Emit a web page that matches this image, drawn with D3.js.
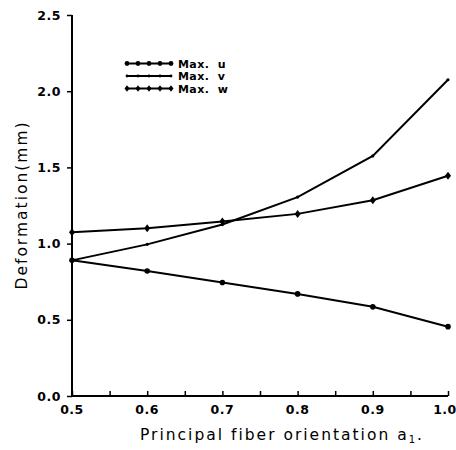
<!DOCTYPE html>
<html><head><meta charset="utf-8">
<script src="https://cdn.jsdelivr.net/npm/d3@7"></script>
<style>body{margin:0;background:#fff}</style>
</head><body><svg id="c" width="456" height="450"></svg>
<script>
const xs = [0.5, 0.6, 0.7, 0.8, 0.9, 1.0];
const maxU = [0.89, 0.82, 0.745, 0.67, 0.585, 0.455];
const maxV = [0.89, 0.995, 1.125, 1.305, 1.575, 2.075];
const maxW = [1.075, 1.10, 1.145, 1.195, 1.285, 1.445];
const xTickLabels = ["0.5","0.6","0.7","0.8","0.9","1.0"];
const yTickLabels = ["0.0","0.5","1.0","1.5","2.0","2.5"];
const seriesNames = ["Max.  u","Max.  v","Max.  w"];

const svg = d3.select("#c");
const x = d3.scaleLinear().domain([0.5,1.0]).range([72,448]);
const y = d3.scaleLinear().domain([0,2.5]).range([396,15]);
const font = "'DejaVu Sans', sans-serif";

// axes
const xAxis = d3.axisBottom(x).tickValues(d3.range(0.5,1.0001,0.05)).tickSize(-5).tickFormat("");
const gx = svg.append("g").attr("transform","translate(0,396)").call(xAxis);
gx.select(".domain").attr("d","M72,0H448").attr("stroke","#000").attr("stroke-width",2);
gx.selectAll(".tick line").attr("stroke","#000").attr("stroke-width",1.5);
svg.append("g").selectAll("text").data(xs).join("text")
  .attr("x",(d,i)=>i===xs.length-1 ? x(d)-3 : x(d)).attr("y",414).attr("text-anchor","middle")
  .attr("font-family",font).attr("font-weight","bold").attr("font-size",12.5).attr("letter-spacing",0.5)
  .text((d,i)=>xTickLabels[i]);

const yAxis = d3.axisLeft(y).tickValues([0,0.5,1,1.5,2,2.5]).tickSize(5).tickFormat("");
const gy = svg.append("g").attr("transform","translate(72,0)").call(yAxis);
gy.select(".domain").attr("d","M0,15V396").attr("stroke","#000").attr("stroke-width",2);
gy.selectAll(".tick line").attr("stroke","#000").attr("stroke-width",1.5);
svg.append("g").selectAll("text").data([0,0.5,1,1.5,2,2.5]).join("text")
  .attr("x",61).attr("y",d=>y(d)+4.5).attr("text-anchor","end")
  .attr("font-family",font).attr("font-weight","bold").attr("font-size",12.5).attr("letter-spacing",0.5)
  .text((d,i)=>yTickLabels[i]);

// titles
svg.append("text").attr("transform","translate(27,205) rotate(-90)").attr("text-anchor","middle")
  .attr("font-family",font).attr("font-size",15.5).attr("letter-spacing",2).text("Deformation(mm)");
svg.append("text").attr("x",282).attr("y",440).attr("text-anchor","middle")
  .attr("font-family",font).attr("font-size",15.5).attr("letter-spacing",2)
  .html("Principal fiber orientation a<tspan font-size='10' dy='3'>1</tspan><tspan dy='-3'>.</tspan>");

// lines
const line = d3.line().x((d,i)=>x(xs[i])).y(d=>y(d));
const series = [maxU, maxV, maxW];
const diamond = "M0,-4L3,0L0,4L-3,0Z";
const markers = [
  g => g.append("circle").attr("r",2.8),
  g => g.append("circle").attr("r",1.6),
  g => g.append("path").attr("d",diamond)
];
series.forEach((s,k)=>{
  svg.append("path").attr("d",line(s)).attr("fill","none").attr("stroke","#000").attr("stroke-width",2);
  s.forEach((v,i)=>{
    const g = svg.append("g").attr("transform",`translate(${x(xs[i])},${y(v)})`).attr("fill","#000");
    markers[k](g);
  });
});

// legend
const ly = [63.5,76,88.5];
seriesNames.forEach((n,k)=>{
  svg.append("line").attr("x1",126).attr("x2",171).attr("y1",ly[k]).attr("y2",ly[k])
    .attr("stroke","#000").attr("stroke-width",2);
  d3.range(5).forEach(j=>{
    const g = svg.append("g").attr("transform",`translate(${127+j*11},${ly[k]})`).attr("fill","#000");
    if(k===0) g.append("circle").attr("r",2.4);
    else if(k===1) g.append("circle").attr("r",1.4);
    else g.append("path").attr("d","M0,-3.2L2.5,0L0,3.2L-2.5,0Z");
  });
  svg.append("text").attr("x",178).attr("y",ly[k]+4).attr("font-family",font)
    .attr("font-weight","bold").attr("font-size",11).attr("letter-spacing",0.4)
    .attr("xml:space","preserve").text(n);
});
</script></body></html>
